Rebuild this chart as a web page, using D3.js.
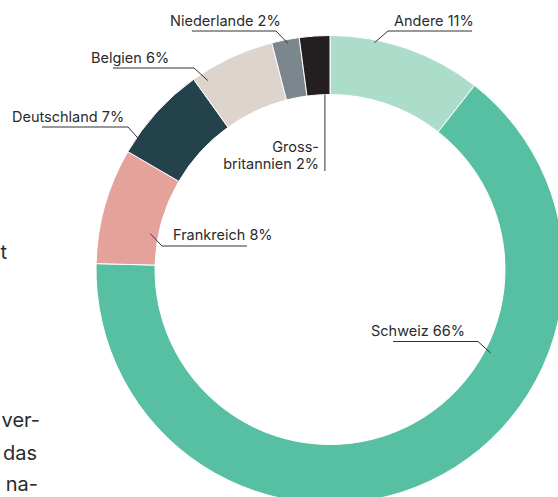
<!DOCTYPE html>
<html>
<head>
<meta charset="utf-8">
<script src="https://cdn.jsdelivr.net/npm/d3@7"></script>
<style>
  html, body { margin: 0; padding: 0; background: #fff; overflow: hidden; }
  svg { display: block; font-family: Inter, "Noto Sans", sans-serif; }
  .label { font-size: 14.5px; fill: #2b2b2b; }
  .leader { fill: none; stroke: #333; stroke-width: 1; }
  .body-text { font-size: 20px; fill: #2b2b2b; }
</style>
</head>
<body>
<div id="chart"></div>
<script>
// Share of each origin, clockwise from 12 o'clock
const names = ["Andere", "Schweiz", "Frankreich", "Deutschland", "Belgien", "Niederlande", "Grossbritannien"];
const shares = [10.6, 64.8, 8.0, 6.7, 5.9, 1.9, 2.1];
const labelPercent = [11, 66, 8, 7, 6, 2, 2];
const colors = ["#acdcca", "#58c0a2", "#e4a29a", "#24424b", "#ddd4ce", "#7b878c", "#231f20"];

// Bits of the article text cut off at the left edge
const bodyLines = ["t", "ver-", "das", "na-"];

const width = 558, height = 497;
const cx = 330, cy = 269.5;
const outerR = 234, innerR = 175;

const svg = d3.select("#chart")
    .append("svg")
    .attr("width", width)
    .attr("height", height);

// Donut
const pie = d3.pie().sort(null).value(d => d.value);
const arc = d3.arc().innerRadius(innerR).outerRadius(outerR);

const data = names.map((n, i) => ({ name: n, value: shares[i], color: colors[i], pct: labelPercent[i] }));
const arcs = pie(data);

const ring = svg.append("g").attr("transform", `translate(${cx},${cy})`);
ring.selectAll("path")
    .data(arcs)
    .join("path")
    .attr("d", arc)
    .attr("fill", d => d.data.color)
    .attr("stroke", "#fff")
    .attr("stroke-width", 1);

// point on the ring: t = position inside the slice (0..1), r = radius
function ringPoint(a, t, r) {
    const ang = a.startAngle + (a.endAngle - a.startAngle) * t;
    return [cx + r * Math.sin(ang), cy - r * Math.cos(ang)];
}

// Label placement (text start, baseline, underline span, tip inside slice)
const labelLayout = {
    "Andere":      { x: 394, y: 26,  anchor: "start", lx0: 388, lx1: 472, ly: 31,    tip: [0.29, 231], side: "left" },
    "Schweiz":     { x: 371, y: 336, anchor: "start", lx0: 393, lx1: 478, ly: 341.5, tip: [0.34, 181], side: "right" },
    "Frankreich":  { x: 173, y: 240, anchor: "start", lx0: 162, lx1: 247, ly: 246,   tip: [0.34, 183], side: "left" },
    "Deutschland": { x: 12,  y: 122, anchor: "start", lx0: 42,  lx1: 128, ly: 127,   tip: [0.17, 232], side: "right" },
    "Belgien":     { x: 91,  y: 63,  anchor: "start", lx0: 113, lx1: 194, ly: 68,    tip: [0.13, 225], side: "right" },
    "Niederlande": { x: 170, y: 26,  anchor: "start", lx0: 192, lx1: 276, ly: 31,    tip: [0.56, 230], side: "right" }
};

const labels = svg.append("g");

arcs.forEach(a => {
    const name = a.data.name;
    if (name === "Grossbritannien") {
        const tip = ringPoint(a, 0.78, innerR);
        labels.append("line")
            .attr("class", "leader")
            .attr("x1", tip[0]).attr("y1", tip[1])
            .attr("x2", tip[0]).attr("y2", 171);
        const t = labels.append("text")
            .attr("class", "label")
            .attr("text-anchor", "end");
        t.append("tspan").attr("x", 319).attr("y", 152).text("Gross-");
        t.append("tspan").attr("x", 319).attr("y", 169).text(`britannien ${a.data.pct}%`);
        return;
    }
    const L = labelLayout[name];
    const tip = ringPoint(a, L.tip[0], L.tip[1]);
    const knee = L.side === "left" ? L.lx0 : L.lx1;
    const other = L.side === "left" ? L.lx1 : L.lx0;
    labels.append("path")
        .attr("class", "leader")
        .attr("d", d3.line()([tip, [knee, L.ly], [other, L.ly]]));
    labels.append("text")
        .attr("class", "label")
        .attr("x", L.x)
        .attr("y", L.y)
        .attr("text-anchor", L.anchor)
        .text(`${name} ${a.data.pct}%`);
});

// Article text fragments on the left edge
const bodyPos = [[7, 259], [40, 427], [37, 460], [38, 491]];
svg.append("g")
    .selectAll("text")
    .data(bodyLines)
    .join("text")
    .attr("class", "body-text")
    .attr("text-anchor", "end")
    .attr("x", (d, i) => bodyPos[i][0])
    .attr("y", (d, i) => bodyPos[i][1])
    .text(d => d);
</script>
</body>
</html>
